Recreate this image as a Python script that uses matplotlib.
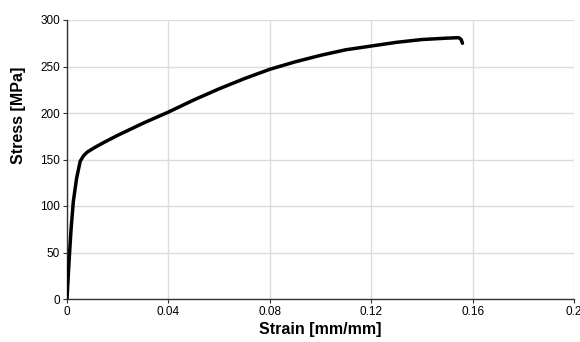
import matplotlib
matplotlib.use("Agg")
import matplotlib.pyplot as plt

strain = [0.0, 0.0008, 0.0016, 0.0025, 0.0038, 0.0052, 0.0065, 0.008, 0.011, 0.015, 0.02, 0.03,
          0.04, 0.05, 0.06, 0.07, 0.08, 0.09, 0.10, 0.11, 0.12, 0.13, 0.14, 0.15, 0.1545, 0.1555, 0.156]
stress = [0.0, 40, 75, 105, 130, 148, 154, 158, 163, 169, 176, 189,
          201, 214, 226, 237, 247, 255, 262, 268, 272, 276, 279, 280.5, 281, 279, 275]

xticks = [0, 0.04, 0.08, 0.12, 0.16, 0.2]
xticklabels = ["0", "0.04", "0.08", "0.12", "0.16", "0.2"]
yticks = [0, 50, 100, 150, 200, 250, 300]

plt.rcParams['font.family'] = ['Liberation Sans', 'DejaVu Sans']
fig = plt.figure(figsize=(5.8, 3.42), dpi=100)
ax = fig.add_axes([67/580, 1 - 299/342, (574-67)/580, (299-20)/342])
ax.plot(strain, stress, color='black', lw=2.5, solid_capstyle='round', solid_joinstyle='round', zorder=3)
ax.set_xlim(0, 0.2)
ax.set_ylim(0, 300)
ax.set_xticks(xticks)
ax.set_xticklabels(xticklabels)
ax.set_yticks(yticks)
ax.grid(True, color='#dcdcdc', lw=1.0)
ax.set_axisbelow(True)
for s in ['top', 'right']:
    ax.spines[s].set_visible(False)
for s in ['left', 'bottom']:
    ax.spines[s].set_color('#333333')
    ax.spines[s].set_linewidth(1.0)
ax.tick_params(axis='both', labelsize=8.5, length=3, width=0.8, color='#333333', pad=2)
ax.set_xlabel('Strain [mm/mm]', fontsize=11.5, fontweight='bold', labelpad=3)
ax.set_ylabel('Stress [MPa]', fontsize=11.5, fontweight='bold')
ax.yaxis.set_label_coords(-0.081, 0.66)
fig.savefig('out.png', dpi=100)
